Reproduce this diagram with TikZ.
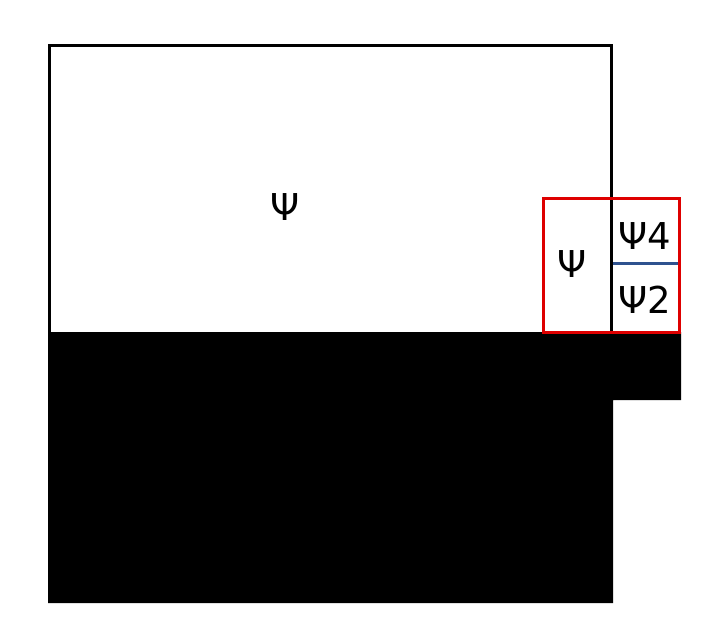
\documentclass[tikz,border=0pt]{standalone}
\usepackage{fontspec}
\setmainfont{DejaVu Sans}
\definecolor{boxred}{RGB}{222,0,0}
\definecolor{lineblue}{RGB}{47,82,143}
\tikzset{
  lbl/.style={font=\fontsize{37}{40}\selectfont, inner sep=0pt, text=black},
  frame/.style={draw=black, line width=3pt},
}
\begin{document}
\begin{tikzpicture}[x=1pt,y=-1pt]
\useasboundingbox (0,0) rectangle (726,635);
% outer frame (upper white part)
\draw[frame] (49.5,332) -- (49.5,45) -- (611,45) -- (611,332);
% black bottom region
\fill[black] (48,332) -- (681,332) -- (681,400) -- (613,400) -- (613,603) -- (48,603) -- cycle;
% vertical divider and blue line
\draw[line width=3pt, draw=lineblue] (611,263) -- (679,263);
\draw[frame] (611,198) -- (611,332);
% red box
\draw[draw=boxred, line width=3pt] (543,198.5) rectangle (679.5,332.5);
% labels
\node[lbl] (main) at (285,207) {Ψ};
\node[lbl] (left) at (572.5,264) {Ψ};
\node[lbl] (p4) at (645,236) {Ψ4};
\node[lbl] (p2) at (645,300) {Ψ2};
\end{tikzpicture}
\end{document}
